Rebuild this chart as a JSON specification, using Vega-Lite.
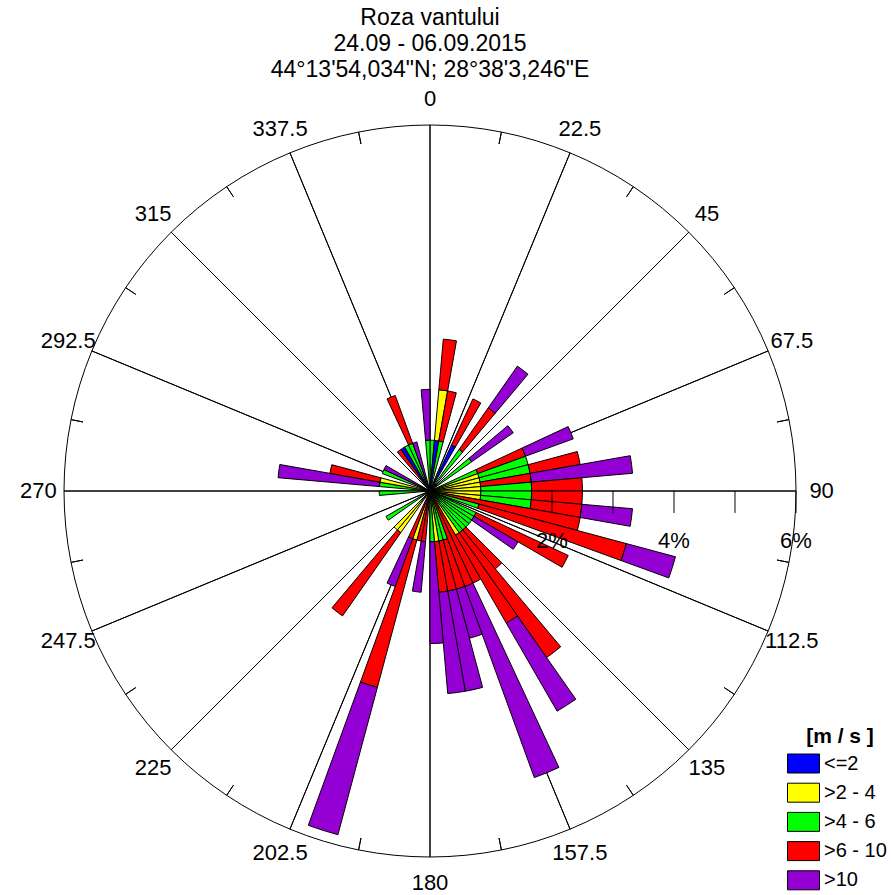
{
  "$schema": "https://vega.github.io/schema/vega-lite/v6.json",
  "width": 860,
  "height": 808,
  "autosize": {"type": "none"},
  "padding": {"left": 0, "top": 87, "right": 31, "bottom": 0},
  "background": "white",
  "view": {"stroke": null},
  "config": {"font": "Liberation Sans"},
  "title": {
    "text": ["Roza vantului", "24.09 - 06.09.2015", "44°13'54,034\"N; 28°38'3,246\"E"],
    "fontSize": 23, "fontWeight": "normal", "lineHeight": 26, "anchor": "middle", "frame": "group",
    "offset": 5, "color": "black", "font": "Liberation Sans"
  },
  "datasets": {
    "spokes": [
      {"a": 0}, {"a": 22.5}, {"a": 45}, {"a": 67.5}, {"a": 90}, {"a": 112.5}, {"a": 135}, {"a": 157.5},
      {"a": 180}, {"a": 202.5}, {"a": 225}, {"a": 247.5}, {"a": 270}, {"a": 292.5}, {"a": 315}, {"a": 337.5}
    ],
    "minor": [
      {"a": 11.25}, {"a": 33.75}, {"a": 56.25}, {"a": 78.75}, {"a": 101.25}, {"a": 123.75}, {"a": 146.25}, {"a": 168.75},
      {"a": 191.25}, {"a": 213.75}, {"a": 236.25}, {"a": 258.75}, {"a": 281.25}, {"a": 303.75}, {"a": 326.25}, {"a": 348.75}
    ],
    "circle": [{"r": 6}],
    "rticks": [{"v": 2}, {"v": 3}, {"v": 4}, {"v": 5}, {"v": 6}],
    "rlabels": [{"v": 2, "t": "2%"}, {"v": 4, "t": "4%"}, {"v": 6, "t": "6%"}],
    "wind": [
      {"d": 2.5, "o": 3, "c": ">4 - 6", "p": 0.833},
      {"d": 7.5, "o": 1, "c": "<=2", "p": 0.833},
      {"d": 7.5, "o": 2, "c": ">2 - 4", "p": 0.833},
      {"d": 7.5, "o": 4, "c": ">6 - 10", "p": 0.833},
      {"d": 12.5, "o": 3, "c": ">4 - 6", "p": 0.833},
      {"d": 12.5, "o": 4, "c": ">6 - 10", "p": 0.833},
      {"d": 27.5, "o": 1, "c": "<=2", "p": 0.833},
      {"d": 27.5, "o": 4, "c": ">6 - 10", "p": 0.833},
      {"d": 37.5, "o": 3, "c": ">4 - 6", "p": 0.833},
      {"d": 37.5, "o": 4, "c": ">6 - 10", "p": 0.833},
      {"d": 37.5, "o": 5, "c": ">10", "p": 0.833},
      {"d": 52.5, "o": 3, "c": ">4 - 6", "p": 0.833},
      {"d": 52.5, "o": 5, "c": ">10", "p": 0.833},
      {"d": 67.5, "o": 3, "c": ">4 - 6", "p": 0.833},
      {"d": 67.5, "o": 4, "c": ">6 - 10", "p": 0.833},
      {"d": 67.5, "o": 5, "c": ">10", "p": 0.833},
      {"d": 72.5, "o": 2, "c": ">2 - 4", "p": 0.833},
      {"d": 72.5, "o": 3, "c": ">4 - 6", "p": 0.833},
      {"d": 77.5, "o": 2, "c": ">2 - 4", "p": 0.833},
      {"d": 77.5, "o": 3, "c": ">4 - 6", "p": 0.833},
      {"d": 77.5, "o": 4, "c": ">6 - 10", "p": 0.833},
      {"d": 82.5, "o": 2, "c": ">2 - 4", "p": 0.833},
      {"d": 82.5, "o": 4, "c": ">6 - 10", "p": 0.833},
      {"d": 82.5, "o": 5, "c": ">10", "p": 1.667},
      {"d": 87.5, "o": 2, "c": ">2 - 4", "p": 0.833},
      {"d": 87.5, "o": 3, "c": ">4 - 6", "p": 0.833},
      {"d": 87.5, "o": 4, "c": ">6 - 10", "p": 0.833},
      {"d": 92.5, "o": 2, "c": ">2 - 4", "p": 0.833},
      {"d": 92.5, "o": 3, "c": ">4 - 6", "p": 0.833},
      {"d": 92.5, "o": 4, "c": ">6 - 10", "p": 0.833},
      {"d": 97.5, "o": 2, "c": ">2 - 4", "p": 0.833},
      {"d": 97.5, "o": 3, "c": ">4 - 6", "p": 0.833},
      {"d": 97.5, "o": 4, "c": ">6 - 10", "p": 0.833},
      {"d": 97.5, "o": 5, "c": ">10", "p": 0.833},
      {"d": 102.5, "o": 4, "c": ">6 - 10", "p": 2.5},
      {"d": 107.5, "o": 3, "c": ">4 - 6", "p": 0.833},
      {"d": 107.5, "o": 4, "c": ">6 - 10", "p": 2.5},
      {"d": 107.5, "o": 5, "c": ">10", "p": 0.833},
      {"d": 117.5, "o": 3, "c": ">4 - 6", "p": 0.833},
      {"d": 117.5, "o": 4, "c": ">6 - 10", "p": 1.667},
      {"d": 122.5, "o": 3, "c": ">4 - 6", "p": 0.833},
      {"d": 122.5, "o": 5, "c": ">10", "p": 0.833},
      {"d": 127.5, "o": 3, "c": ">4 - 6", "p": 0.833},
      {"d": 132.5, "o": 3, "c": ">4 - 6", "p": 0.833},
      {"d": 137.5, "o": 3, "c": ">4 - 6", "p": 0.833},
      {"d": 137.5, "o": 4, "c": ">6 - 10", "p": 0.833},
      {"d": 142.5, "o": 3, "c": ">4 - 6", "p": 0.833},
      {"d": 142.5, "o": 4, "c": ">6 - 10", "p": 2.5},
      {"d": 147.5, "o": 2, "c": ">2 - 4", "p": 0.833},
      {"d": 147.5, "o": 4, "c": ">6 - 10", "p": 1.667},
      {"d": 147.5, "o": 5, "c": ">10", "p": 1.667},
      {"d": 152.5, "o": 4, "c": ">6 - 10", "p": 1.667},
      {"d": 157.5, "o": 4, "c": ">6 - 10", "p": 1.667},
      {"d": 157.5, "o": 5, "c": ">10", "p": 3.333},
      {"d": 162.5, "o": 3, "c": ">4 - 6", "p": 0.833},
      {"d": 162.5, "o": 4, "c": ">6 - 10", "p": 0.833},
      {"d": 162.5, "o": 5, "c": ">10", "p": 0.833},
      {"d": 167.5, "o": 3, "c": ">4 - 6", "p": 0.833},
      {"d": 167.5, "o": 4, "c": ">6 - 10", "p": 0.833},
      {"d": 167.5, "o": 5, "c": ">10", "p": 1.667},
      {"d": 172.5, "o": 2, "c": ">2 - 4", "p": 0.833},
      {"d": 172.5, "o": 4, "c": ">6 - 10", "p": 0.833},
      {"d": 172.5, "o": 5, "c": ">10", "p": 1.667},
      {"d": 177.5, "o": 3, "c": ">4 - 6", "p": 0.833},
      {"d": 177.5, "o": 5, "c": ">10", "p": 1.667},
      {"d": 187.5, "o": 4, "c": ">6 - 10", "p": 0.833},
      {"d": 187.5, "o": 5, "c": ">10", "p": 0.833},
      {"d": 192.5, "o": 4, "c": ">6 - 10", "p": 0.833},
      {"d": 197.5, "o": 2, "c": ">2 - 4", "p": 0.833},
      {"d": 197.5, "o": 4, "c": ">6 - 10", "p": 2.5},
      {"d": 197.5, "o": 5, "c": ">10", "p": 2.5},
      {"d": 202.5, "o": 4, "c": ">6 - 10", "p": 0.833},
      {"d": 202.5, "o": 5, "c": ">10", "p": 0.833},
      {"d": 217.5, "o": 2, "c": ">2 - 4", "p": 0.833},
      {"d": 217.5, "o": 4, "c": ">6 - 10", "p": 1.667},
      {"d": 222.5, "o": 2, "c": ">2 - 4", "p": 0.833},
      {"d": 237.5, "o": 3, "c": ">4 - 6", "p": 0.833},
      {"d": 267.5, "o": 3, "c": ">4 - 6", "p": 0.833},
      {"d": 277.5, "o": 3, "c": ">4 - 6", "p": 0.833},
      {"d": 277.5, "o": 5, "c": ">10", "p": 1.667},
      {"d": 282.5, "o": 2, "c": ">2 - 4", "p": 0.833},
      {"d": 282.5, "o": 4, "c": ">6 - 10", "p": 0.833},
      {"d": 292.5, "o": 3, "c": ">4 - 6", "p": 0.833},
      {"d": 297.5, "o": 5, "c": ">10", "p": 0.833},
      {"d": 322.5, "o": 4, "c": ">6 - 10", "p": 0.833},
      {"d": 327.5, "o": 1, "c": "<=2", "p": 0.833},
      {"d": 332.5, "o": 3, "c": ">4 - 6", "p": 0.833},
      {"d": 337.5, "o": 3, "c": ">4 - 6", "p": 0.833},
      {"d": 337.5, "o": 4, "c": ">6 - 10", "p": 0.833},
      {"d": 342.5, "o": 5, "c": ">10", "p": 0.833},
      {"d": 357.5, "o": 3, "c": ">4 - 6", "p": 0.833},
      {"d": 357.5, "o": 5, "c": ">10", "p": 0.833}
    ]
  },
  "layer": [
    {
      "data": {"name": "spokes"},
      "mark": {"type": "arc", "fillOpacity": 0, "stroke": "black", "strokeWidth": 1},
      "encoding": {
        "theta": {"field": "a", "type": "quantitative", "stack": null, "scale": {"type": "linear", "domain": [0, 360], "range": [0, 6.283185307179586], "nice": false, "zero": false}},
        "theta2": {"field": "a"},
        "radius": {"datum": 6, "type": "quantitative", "scale": {"type": "linear", "domain": [0, 6], "range": [0, 366], "nice": false, "zero": true}},
        "radius2": {"datum": 0}
      }
    },
    {
      "data": {"name": "circle"},
      "mark": {"type": "arc", "fillOpacity": 0, "stroke": "black", "strokeWidth": 1},
      "encoding": {
        "theta": {"datum": 0, "type": "quantitative", "stack": null},
        "theta2": {"datum": 360},
        "radius": {"field": "r", "type": "quantitative"},
        "radius2": {"datum": 0}
      }
    },
    {
      "data": {"name": "minor"},
      "mark": {"type": "arc", "fillOpacity": 0, "stroke": "black", "strokeWidth": 1},
      "encoding": {
        "theta": {"field": "a", "type": "quantitative", "stack": null},
        "theta2": {"field": "a"},
        "radius": {"datum": 6, "type": "quantitative"},
        "radius2": {"datum": 5.8}
      }
    },
    {
      "data": {"name": "wind"},
      "transform": [
        {"stack": "p", "groupby": ["d"], "sort": [{"field": "o", "order": "ascending"}], "as": ["r0", "r1"]},
        {"calculate": "datum.d - 2.5", "as": "a0"},
        {"calculate": "datum.d + 2.5", "as": "a1"}
      ],
      "mark": {"type": "arc", "stroke": "black", "strokeWidth": 1},
      "encoding": {
        "theta": {"field": "a0", "type": "quantitative", "stack": null},
        "theta2": {"field": "a1"},
        "radius": {"field": "r1", "type": "quantitative", "stack": null},
        "radius2": {"field": "r0"},
        "color": {
          "field": "c", "type": "nominal",
          "scale": {"domain": ["<=2", ">2 - 4", ">4 - 6", ">6 - 10", ">10"], "range": ["#0000FF", "#FFFF00", "#00FF00", "#FF0000", "#9400D3"]},
          "legend": {
            "orient": "none", "legendX": 793, "legendY": 639, "title": "[m / s ]",
            "titleFontSize": 21, "titleFontWeight": "bold", "titleColor": "black", "titlePadding": 6, "titleAnchor": "middle",
            "labelFontSize": 20, "labelColor": "black", "labelOffset": 10,
            "symbolType": "M-1.6,-0.95L1.6,-0.95L1.6,0.95L-1.6,0.95Z", "symbolSize": 400,
            "symbolStrokeColor": "black", "symbolStrokeWidth": 1, "symbolOpacity": 1, "rowPadding": 6.2, "padding": 0
          }
        }
      }
    },
    {
      "data": {"name": "rticks"},
      "mark": {"type": "rule", "color": "black", "strokeWidth": 1},
      "encoding": {
        "x": {"field": "v", "type": "quantitative", "axis": null, "scale": {"domain": [-7.0492, 7.0492], "nice": false, "zero": false}},
        "y": {"datum": 0, "type": "quantitative", "axis": null, "scale": {"domain": [-6.623, 6.623], "nice": false, "zero": false}},
        "y2": {"datum": -0.36}
      }
    },
    {
      "data": {"name": "rlabels"},
      "mark": {"type": "text", "fontSize": 22, "color": "black", "align": "center", "baseline": "middle"},
      "encoding": {
        "x": {"field": "v", "type": "quantitative", "axis": null},
        "y": {"datum": -0.82, "type": "quantitative", "axis": null},
        "text": {"field": "t", "type": "nominal"}
      }
    },
    {
      "data": {"name": "spokes"},
      "mark": {"type": "text", "fontSize": 22, "color": "black", "align": "center", "baseline": "middle"},
      "encoding": {
        "theta": {"field": "a", "type": "quantitative", "stack": null},
        "radius": {"datum": 6.42, "type": "quantitative"},
        "text": {"field": "a", "type": "nominal"}
      }
    }
  ]
}
